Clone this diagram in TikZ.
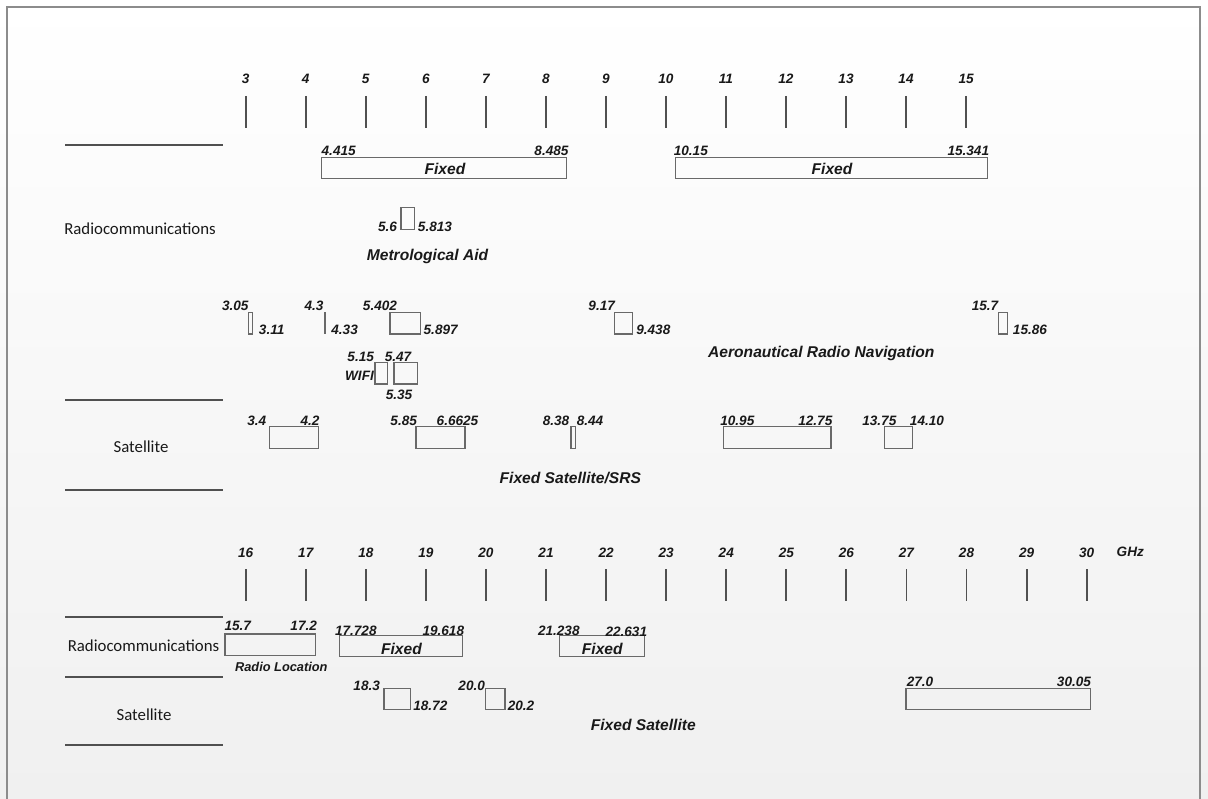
\documentclass[tikz,border=0pt]{standalone}
\usepackage{fontspec}
\setmainfont{Liberation Sans}
\newfontfamily\carl{Carlito}
\definecolor{bgbot}{RGB}{240,240,240}
\definecolor{framegray}{RGB}{140,140,140}
\definecolor{tickgray}{RGB}{80,80,80}
\definecolor{boxgray}{RGB}{105,105,105}
\definecolor{txt}{RGB}{25,25,25}
\tikzset{
  num/.style={font=\fontsize{10.2}{12}\selectfont\bfseries\itshape, text=txt, anchor=base, inner sep=0pt},
  biglab/.style={font=\fontsize{11.7}{14}\selectfont\bfseries\itshape, text=txt, anchor=base, inner sep=0pt},
  smalllab/.style={font=\fontsize{9.6}{11}\selectfont\bfseries\itshape, text=txt, anchor=base, inner sep=0pt},
  cat/.style={font=\fontsize{12.6}{15}\selectfont\carl, text=txt, anchor=base, inner sep=0pt},
  band/.style={draw=boxgray, line width=0.9pt},
  tickline/.style={draw=tickgray, line width=1.4pt},
  sepline/.style={draw=tickgray, line width=1.5pt},
}
\begin{document}
\begin{tikzpicture}[x=0.75pt, y=-0.75pt]
\useasboundingbox (0,0) rectangle (1208,799);
\shade[top color=white, bottom color=bgbot] (0,0) rectangle (1208,799);
\draw[framegray, line width=1.1pt] (7,800) -- (7,7) -- (1200,7) -- (1200,800);

% top axis
\foreach \n [count=\i from 0] in {3,...,15}{
  \coordinate (ta\n) at ({245.7+60.03*\i},96);
  \coordinate (tb\n) at ({245.7+60.03*\i},127.7);
  \draw[tickline] (ta\n) -- (tb\n);
  \node[num] (tl\n) at ({245.7+60.03*\i},84) {\n};
}
% bottom axis
\foreach \n [count=\i from 0] in {16,...,30}{
  \coordinate (ba\n) at ({245.7+60.07*\i},569.3);
  \coordinate (bb\n) at ({245.7+60.07*\i},600.7);
  \draw[tickline] (ba\n) -- (bb\n);
  \node[num] (bl\n) at ({245.7+60.07*\i},557.3) {\n};
}
\node[num] (ghz) at (1130.3,556.7) {GHz};

% separator lines
\foreach \y [count=\k] in {145,400,490,616.7,676.7,745}{
  \coordinate (sl\k) at (65,\y);
  \coordinate (sr\k) at (222.5,\y);
  \draw[sepline] (sl\k) -- (sr\k);
}
\node[cat] (rc1) at (140,234.5) {Radiocommunications};
\node[cat] (sat1) at (141,452) {Satellite};
\node[cat] (rc2) at (143.5,651.7) {Radiocommunications};
\node[cat] (sat2) at (144,720) {Satellite};

% bands, upper part
\draw[band] (321.7,157.3) rectangle (566.7,178.3);
\draw[band] (675.7,157.3) rectangle (987.7,178.3);
\draw[band] (401,207.7) rectangle (414.3,229.3);
\draw[band] (248.3,312.7) rectangle (252.3,334);
\draw[band] (324.9,312.7) rectangle (325.7,333.3);
\draw[band] (390,312.7) rectangle (420.7,334);
\draw[band] (614.3,312.7) rectangle (632.7,334);
\draw[band] (998.3,312.7) rectangle (1007.7,334);
\draw[band] (375,362.3) rectangle (387.7,384);
\draw[band] (394,362.3) rectangle (417.7,384);
\draw[band] (269.3,426.7) rectangle (318.3,448.7);
\draw[band] (416,426.7) rectangle (465,448.7);
\draw[band] (571,426.7) rectangle (575.7,448.7);
\draw[band] (723.3,426.7) rectangle (831,448.7);
\draw[band] (884.3,426.7) rectangle (912.3,448.7);
% bands, lower part
\draw[band] (225,634) rectangle (315.3,655.3);
\draw[band] (339.3,635.3) rectangle (462.7,656.7);
\draw[band] (559.6,635.3) rectangle (644.6,656.7);
\draw[band] (384,688.3) rectangle (410.7,709.3);
\draw[band] (485.8,688.3) rectangle (504.9,709.3);
\draw[band] (906,688.3) rectangle (1090.7,709.3);

% labels upper
\node[num] (l1) at (338.7,156) {4.415};
\node[num] (l2) at (551.5,156) {8.485};
\node[biglab] (f1) at (445,175) {Fixed};
\node[num] (l3) at (690.8,156) {10.15};
\node[num] (l4) at (968.3,156) {15.341};
\node[biglab] (f2) at (832,175) {Fixed};
\node[num] (l5) at (387.5,231.5) {5.6};
\node[num] (l6) at (435,231.5) {5.813};
\node[biglab] (met) at (427.5,260.5) {Metrological Aid};
\node[num] (l7) at (235.3,310) {3.05};
\node[num] (l8) at (271.7,334.5) {3.11};
\node[num] (l9) at (314,310) {4.3};
\node[num] (l10) at (344.6,334.5) {4.33};
\node[num] (l11) at (380,310) {5.402};
\node[num] (l12) at (440.7,334.5) {5.897};
\node[num] (l13) at (601.7,310) {9.17};
\node[num] (l14) at (653.3,334.5) {9.438};
\node[num] (l15) at (985,310) {15.7};
\node[num] (l16) at (1030,334.5) {15.86};
\node[biglab] (aero) at (821.3,357.5) {Aeronautical Radio Navigation};
\node[num] (l17) at (360.7,361.7) {5.15};
\node[num] (l18) at (398,361.7) {5.47};
\node[num] (wifi) at (359.5,380) {WIFI};
\node[num] (l19) at (399,399) {5.35};
\node[num] (l20) at (256.8,425) {3.4};
\node[num] (l21) at (310,425) {4.2};
\node[num] (l22) at (403.7,425) {5.85};
\node[num] (l23) at (457.5,425) {6.6625};
\node[num] (l24) at (556,425) {8.38};
\node[num] (l25) at (590,425) {8.44};
\node[num] (l26) at (737.3,425) {10.95};
\node[num] (l27) at (815.3,425) {12.75};
\node[num] (l28) at (879.3,425) {13.75};
\node[num] (l29) at (927,425) {14.10};
\node[biglab] (fss) at (570.3,483.5) {Fixed Satellite/SRS};

% labels lower
\node[num] (m1) at (237.8,630.7) {15.7};
\node[num] (m2) at (303.7,630.7) {17.2};
\node[smalllab] (rl) at (281.3,671.5) {Radio Location};
\node[num] (m3) at (355.8,635) {17.728};
\node[num] (m4) at (443.3,635) {19.618};
\node[biglab] (f3) at (401.5,654) {Fixed};
\node[num] (m5) at (558.8,635) {21.238};
\node[num] (m6) at (626.3,636) {22.631};
\node[biglab] (f4) at (602.3,654) {Fixed};
\node[num] (m7) at (366.7,690) {18.3};
\node[num] (m8) at (430.3,710) {18.72};
\node[num] (m9) at (471.7,690) {20.0};
\node[num] (m10) at (521,710) {20.2};
\node[num] (m11) at (920,686.7) {27.0};
\node[num] (m12) at (1074,686.7) {30.05};
\node[biglab] (fs) at (643.3,730.5) {Fixed Satellite};
\end{tikzpicture}
\end{document}
